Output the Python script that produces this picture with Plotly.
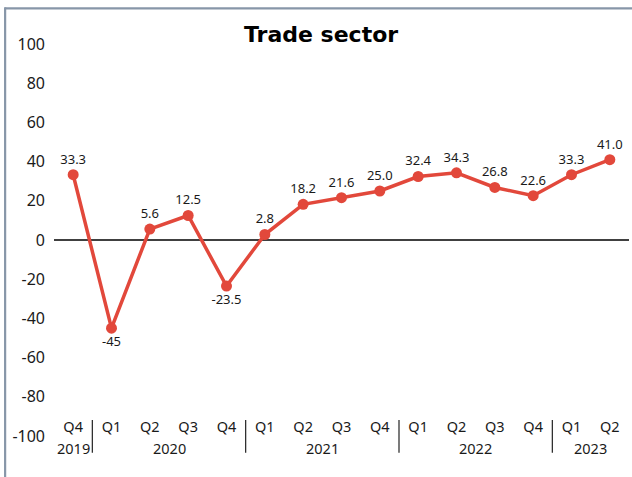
import plotly.graph_objects as go

# quarterly balance values (as labelled on the chart)
quarters = ["Q4", "Q1", "Q2", "Q3", "Q4", "Q1", "Q2", "Q3", "Q4",
            "Q1", "Q2", "Q3", "Q4", "Q1", "Q2"]
values = [33.3, -45, 5.6, 12.5, -23.5, 2.8, 18.2, 21.6, 25.0,
          32.4, 34.3, 26.8, 22.6, 33.3, 41.0]
labels = ["33.3", "-45", "5.6", "12.5", "-23.5", "2.8", "18.2", "21.6", "25.0",
          "32.4", "34.3", "26.8", "22.6", "33.3", "41.0"]
years = ["2019", "2020", "2021", "2022", "2023"]
year_centers = [0, 2.5, 6.5, 10.5, 13.5]
year_breaks = [0.5, 4.5, 8.5, 12.5]
y_ticks = [-100, -80, -60, -40, -20, 0, 20, 40, 60, 80, 100]
y_ticktext = [str(v) for v in y_ticks]  # plain hyphen minus like the original

RED = "#e2483b"
FONT = "Noto Sans"
BORDER = "#8796a8"

x = list(range(len(values)))

fig = go.Figure()
fig.add_trace(go.Scatter(
    x=x,
    y=values,
    mode="lines+markers+text",
    line=dict(color=RED, width=3.5),
    marker=dict(color=RED, size=11),
    text=labels,
    textposition=["top center" if v >= 0 else "bottom center" for v in values],
    textfont=dict(family=FONT, size=13, color="#1a1a1a"),
    cliponaxis=False,
    showlegend=False,
))

# year labels under quarters
for yr, xc in zip(years, year_centers):
    fig.add_annotation(x=xc, y=-0.031, xref="x", yref="paper", text=yr,
                       showarrow=False, yanchor="middle",
                       font=dict(family=FONT, size=14.5, color="#1a1a1a"))

# dividers between years
for xb in year_breaks:
    fig.add_shape(type="line", xref="x", yref="paper", x0=xb, x1=xb,
                  y0=0.041, y1=-0.043, line=dict(color="#222222", width=1.2))

# outer border, only the top and left edges are visible in the frame
fig.add_shape(type="line", xref="paper", yref="paper",
              x0=-0.085, x1=1.02, y0=1.091, y1=1.091,
              line=dict(color=BORDER, width=2.2))
fig.add_shape(type="line", xref="paper", yref="paper",
              x0=-0.085, x1=-0.085, y0=-0.12, y1=1.094,
              line=dict(color=BORDER, width=2.2))

fig.update_layout(
    width=632, height=477,
    margin=dict(l=54, r=3, t=44, b=41, autoexpand=False),
    paper_bgcolor="white", plot_bgcolor="white",
    font=dict(family=FONT, color="#1a1a1a"),
    title=dict(text="<b>Trade sector</b>", x=0.508, xanchor="center",
               y=0.928, yanchor="middle",
               font=dict(family="DejaVu Sans", size=22, color="black")),
    xaxis=dict(
        range=[-0.5, len(values) - 0.5],
        tickmode="array", tickvals=x, ticktext=quarters,
        showgrid=False, showline=False, zeroline=False, ticks="",
        anchor="free", position=0.05, automargin=False,
        tickfont=dict(family=FONT, size=14.5, color="#1a1a1a"),
    ),
    yaxis=dict(
        range=[-100, 100],
        tickmode="array", tickvals=y_ticks, ticktext=y_ticktext,
        showgrid=False, showline=False, ticks="", automargin=False,
        zeroline=True, zerolinecolor="#404040", zerolinewidth=1.8,
        tickfont=dict(family=FONT, size=16, color="#1a1a1a"),
        ticklabelstandoff=8,
    ),
)

# drop the default page margin so the figure sits at the window's corner
fig.write_html("out.html", config={"displayModeBar": False},
               post_script="document.body.style.margin='0';")
